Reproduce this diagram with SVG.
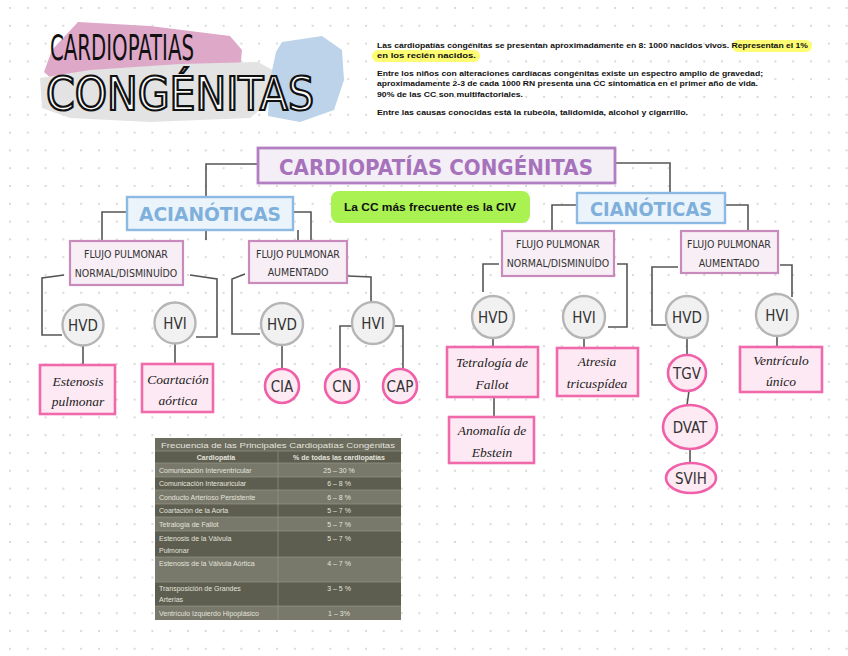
<svg xmlns="http://www.w3.org/2000/svg" width="848" height="656" viewBox="0 0 848 656">
<defs>
<pattern id="dots" x="8" y="6" width="17.8" height="17.8" patternUnits="userSpaceOnUse">
<circle cx="2" cy="2" r="0.9" fill="#c9c9c9"/>
</pattern>
<style>
.c{fill:none;stroke:#555;stroke-width:1.6}
.para{font-family:"Liberation Sans",Arial,sans-serif;font-size:7.4px;font-weight:bold;fill:#111}
.flujo rect{fill:#f8eef5;stroke:#c98bbb;stroke-width:2.2}
.flujo text{font-family:"DejaVu Sans Condensed","Liberation Sans Narrow",sans-serif;font-size:10.5px;fill:#333;text-anchor:middle}
.gc circle{fill:#f1f1f1;stroke:#b5b5b5;stroke-width:2.4}
.gc text{font-family:"DejaVu Sans Condensed","Liberation Sans Narrow",sans-serif;font-size:15px;fill:#333;text-anchor:middle}
.pb rect{fill:#fde9f3;stroke:#f06aab;stroke-width:2.6}
.pb text{font-family:"Liberation Serif",serif;font-style:italic;font-size:13.5px;fill:#222;text-anchor:middle}
.pc circle,.pc ellipse{fill:#fdeaf3;stroke:#f060a8;stroke-width:2.6}
.pc text{font-family:"DejaVu Sans Condensed","Liberation Sans Narrow",sans-serif;font-size:15px;fill:#333;text-anchor:middle}
.bl rect{fill:#ebf3fb;stroke:#8dbae2;stroke-width:2.4}
.bl text{font-family:"DejaVu Sans","Liberation Sans",sans-serif;font-weight:bold;font-size:20px;fill:#7fb0dc;text-anchor:middle}
.tb{font-family:"Liberation Sans",Arial,sans-serif;font-size:7px;fill:#e4e4dc}
.tc{text-anchor:middle}
</style>
</defs>
<rect width="848" height="656" fill="#ffffff"/>
<rect width="848" height="656" fill="url(#dots)"/>

<!-- Title blobs -->
<g id="title">
<path d="M78 22 L150 26 L230 36 L242 50 L240 70 L200 80 L120 84 L60 86 L44 72 L52 50 Z" fill="#dea8c8"/>
<path d="M40 78 L90 70 L180 64 L258 62 L276 72 L272 100 L250 118 L150 122 L70 118 L42 108 Z" fill="#e3e3e3"/>
<path d="M282 42 L322 36 L342 50 L344 80 L334 110 L300 122 L268 116 L270 80 L276 52 Z" fill="#bcd3ea"/>
<text x="50" y="60" font-family="Liberation Sans Narrow,DejaVu Sans Condensed,sans-serif" font-size="36" fill="#111" textLength="144" lengthAdjust="spacingAndGlyphs">CARDIOPATIAS</text>
<text x="46" y="110" font-family="Liberation Sans Narrow,DejaVu Sans Condensed,sans-serif" font-size="46" fill="#ffffff" stroke="#111" stroke-width="2.2" textLength="268" lengthAdjust="spacingAndGlyphs">CONGÉNITAS</text>
</g>

<!-- Paragraph -->
<g id="info">
<rect x="732" y="40" width="80" height="12" rx="6" fill="#fdfc72"/>
<rect x="372" y="50" width="108" height="12" rx="6" fill="#fdfc72"/>
<text class="para" x="377" y="48" textLength="431" lengthAdjust="spacingAndGlyphs">Las cardiopatías congénitas se presentan aproximadamente en 8: 1000 nacidos vivos. Representan el 1%</text>
<text class="para" x="377" y="58" textLength="99" lengthAdjust="spacingAndGlyphs">en los recién nacidos.</text>
<text class="para" x="377" y="76" textLength="386" lengthAdjust="spacingAndGlyphs">Entre los niños con alteraciones cardíacas congénitas existe un espectro amplio de gravedad;</text>
<text class="para" x="377" y="86" textLength="381" lengthAdjust="spacingAndGlyphs">aproximadamente 2-3 de cada 1000 RN presenta una CC sintomática en el primer año de vida.</text>
<text class="para" x="377" y="97" textLength="146" lengthAdjust="spacingAndGlyphs">90% de las CC son multifactoriales.</text>
<text class="para" x="377" y="115" textLength="311" lengthAdjust="spacingAndGlyphs">Entre las causas conocidas está la rubeóla, talidomida, alcohol y cigarrillo.</text>
</g>

<!-- Connectors -->
<g id="connectors">
<polyline class="c" points="258,164 206,164 206,196"/>
<polyline class="c" points="616,163 670,163 670,192"/>
<line class="c" x1="206" y1="230" x2="206" y2="240"/>
<line class="c" x1="298" y1="230" x2="298" y2="240"/>
<polyline class="c" points="294,212 311,212 311,240"/>
<polyline class="c" points="127,212 102,212 102,240"/>
<polyline class="c" points="576,205 552,205 552,231"/>
<polyline class="c" points="726,205 748,205 748,231"/>
<polyline class="c" points="64,275 42,278 42,335 62,335"/>
<polyline class="c" points="190,275 217,279 217,337 196,337"/>
<line class="c" x1="83" y1="346" x2="83" y2="365"/>
<line class="c" x1="175" y1="344" x2="175" y2="364"/>
<polyline class="c" points="245,274 232,279 232,334 260,334"/>
<line class="c" x1="282" y1="345" x2="282" y2="369"/>
<polyline class="c" points="348,276 371,277 371,302"/>
<polyline class="c" points="352,326 340,326 340,370"/>
<polyline class="c" points="394,326 403,326 403,370"/>
<polyline class="c" points="499,264 483,264 483,292"/>
<polyline class="c" points="617,264 627,264 627,327 608,327"/>
<line class="c" x1="493" y1="338" x2="493" y2="347"/>
<line class="c" x1="494" y1="397" x2="494" y2="417"/>
<line class="c" x1="584" y1="338" x2="584" y2="348"/>
<polyline class="c" points="678,267 652,267 652,325 666,325"/>
<polyline class="c" points="780,265 792,265 792,297"/>
<line class="c" x1="687" y1="338" x2="687" y2="355"/>
<line class="c" x1="689" y1="391" x2="687" y2="405"/>
<line class="c" x1="690" y1="449" x2="690" y2="463"/>
<line class="c" x1="777" y1="336" x2="777" y2="347"/>
</g>

<!-- Main header -->
<g id="main">
<rect x="258" y="148" width="357" height="35" fill="#f4eef6" stroke="#b280c2" stroke-width="2.8"/>
<text x="436" y="175" font-family="DejaVu Sans,Liberation Sans,sans-serif" font-weight="bold" font-size="22" fill="#a672bc" text-anchor="middle" textLength="314" lengthAdjust="spacingAndGlyphs">CARDIOPATÍAS CONGÉNITAS</text>
</g>

<g id="civ">
<rect x="331" y="191" width="199" height="32" rx="8" fill="#a9f251"/>
<text x="430" y="211" font-family="Liberation Sans,Arial,sans-serif" font-weight="bold" font-size="10.5" fill="#111" text-anchor="middle" textLength="172" lengthAdjust="spacingAndGlyphs">La CC más frecuente es la CIV</text>
</g>

<g id="acianoticas" class="bl">
<rect x="127" y="197" width="166" height="33"/>
<text x="210" y="221" textLength="142" lengthAdjust="spacingAndGlyphs">ACIANÓTICAS</text>
</g>
<g id="cianoticas" class="bl">
<rect x="577" y="193" width="148" height="30"/>
<text x="651" y="216" textLength="122" lengthAdjust="spacingAndGlyphs">CIANÓTICAS</text>
</g>

<!-- Flujo boxes -->
<g id="flujo-a-nd" class="flujo">
<rect x="70" y="241" width="113" height="44"/>
<text x="126" y="258">FLUJO PULMONAR</text>
<text x="126" y="277">NORMAL/DISMINUÍDO</text>
</g>
<g id="flujo-a-au" class="flujo">
<rect x="249" y="241" width="98" height="42"/>
<text x="298" y="258">FLUJO PULMONAR</text>
<text x="298" y="276">AUMENTADO</text>
</g>
<g id="flujo-c-nd" class="flujo">
<rect x="502" y="231" width="112" height="45"/>
<text x="558" y="248">FLUJO PULMONAR</text>
<text x="558" y="267">NORMAL/DISMINUÍDO</text>
</g>
<g id="flujo-c-au" class="flujo">
<rect x="681" y="231" width="97" height="42"/>
<text x="729" y="248">FLUJO PULMONAR</text>
<text x="729" y="267">AUMENTADO</text>
</g>

<!-- Grey circles -->
<g id="hvd1" class="gc"><circle cx="83" cy="325" r="20.5"/><text x="83" y="331">HVD</text></g>
<g id="hvi1" class="gc"><circle cx="175" cy="323" r="20.5"/><text x="175" y="329">HVI</text></g>
<g id="hvd2" class="gc"><circle cx="282" cy="324" r="21"/><text x="282" y="330">HVD</text></g>
<g id="hvi2" class="gc"><circle cx="373" cy="323" r="21"/><text x="373" y="329">HVI</text></g>
<g id="hvd3" class="gc"><circle cx="493" cy="317" r="21"/><text x="493" y="323">HVD</text></g>
<g id="hvi3" class="gc"><circle cx="584" cy="317" r="21"/><text x="584" y="323">HVI</text></g>
<g id="hvd4" class="gc"><circle cx="687" cy="317" r="21"/><text x="687" y="323">HVD</text></g>
<g id="hvi4" class="gc"><circle cx="777" cy="315" r="21"/><text x="777" y="321">HVI</text></g>

<!-- Pink boxes -->
<g id="estenosis" class="pb"><rect x="40" y="365" width="75" height="49"/><text x="78" y="386">Estenosis</text><text x="78" y="406">pulmonar</text></g>
<g id="coartacion" class="pb"><rect x="142" y="364" width="71" height="48"/><text x="178" y="384">Coartación</text><text x="178" y="405">aórtica</text></g>
<g id="tetralogia" class="pb"><rect x="447" y="347" width="91" height="50"/><text x="492" y="367">Tetralogía de</text><text x="492" y="389">Fallot</text></g>
<g id="ebstein" class="pb"><rect x="449" y="417" width="85" height="46"/><text x="492" y="435">Anomalía de</text><text x="492" y="457">Ebstein</text></g>
<g id="atresia" class="pb"><rect x="557" y="348" width="81" height="48"/><text x="597" y="366">Atresia</text><text x="597" y="388">tricuspídea</text></g>
<g id="ventriculo" class="pb"><rect x="740" y="347" width="82" height="45"/><text x="781" y="365">Ventrículo</text><text x="781" y="386">único</text></g>

<!-- Pink circles -->
<g id="cia" class="pc"><circle cx="282" cy="386" r="17"/><text x="282" y="392">CIA</text></g>
<g id="cn" class="pc"><circle cx="342" cy="386" r="17"/><text x="342" y="392">CN</text></g>
<g id="cap" class="pc"><circle cx="400" cy="386" r="17"/><text x="400" y="392">CAP</text></g>
<g id="tgv" class="pc"><ellipse cx="687" cy="373" rx="19" ry="18"/><text x="687" y="379">TGV</text></g>
<g id="dvat" class="pc"><ellipse cx="690" cy="427" rx="27" ry="22"/><text x="690" y="433">DVAT</text></g>
<g id="svih" class="pc"><ellipse cx="691" cy="478" rx="25" ry="15"/><text x="691" y="484">SVIH</text></g>

<!-- Table -->
<g id="table">
<rect x="155" y="438" width="246" height="13" fill="#6c6c5f"/>
<rect x="155" y="451" width="246" height="12" fill="#5d5d50"/>
<rect x="155" y="463" width="246" height="14" fill="#78786b"/>
<rect x="155" y="477" width="246" height="13" fill="#5d5d50"/>
<rect x="155" y="490" width="246" height="14" fill="#78786b"/>
<rect x="155" y="504" width="246" height="13" fill="#5d5d50"/>
<rect x="155" y="517" width="246" height="14" fill="#78786b"/>
<rect x="155" y="531" width="246" height="26" fill="#5d5d50"/>
<rect x="155" y="557" width="246" height="25" fill="#78786b"/>
<rect x="155" y="582" width="246" height="24" fill="#5d5d50"/>
<rect x="155" y="606" width="246" height="14" fill="#78786b"/>
<g stroke="#9a9a8e" stroke-width="0.6">
<line x1="278" y1="451" x2="278" y2="620"/>
<line x1="155" y1="451" x2="401" y2="451"/>
<line x1="155" y1="463" x2="401" y2="463"/>
<line x1="155" y1="477" x2="401" y2="477"/>
<line x1="155" y1="490" x2="401" y2="490"/>
<line x1="155" y1="504" x2="401" y2="504"/>
<line x1="155" y1="517" x2="401" y2="517"/>
<line x1="155" y1="531" x2="401" y2="531"/>
<line x1="155" y1="557" x2="401" y2="557"/>
<line x1="155" y1="582" x2="401" y2="582"/>
<line x1="155" y1="606" x2="401" y2="606"/>
</g>
<text class="tb" x="161" y="448" font-size="8.6" textLength="234" lengthAdjust="spacingAndGlyphs">Frecuencia de las Principales Cardiopatías Congénitas</text>
<text class="tb tc" x="216" y="460" font-weight="bold">Cardiopatía</text>
<text class="tb tc" x="339" y="460" font-weight="bold">% de todas las cardiopatías</text>
<text class="tb" x="159" y="473">Comunicación Interventricular</text>
<text class="tb tc" x="339" y="473">25 – 30 %</text>
<text class="tb" x="159" y="486">Comunicación Interauricular</text>
<text class="tb tc" x="339" y="486">6 – 8 %</text>
<text class="tb" x="159" y="500">Conducto Arterioso Persistente</text>
<text class="tb tc" x="339" y="500">6 – 8 %</text>
<text class="tb" x="159" y="513">Coartación de la Aorta</text>
<text class="tb tc" x="339" y="513">5 – 7 %</text>
<text class="tb" x="159" y="527">Tetralogía de Fallot</text>
<text class="tb tc" x="339" y="527">5 – 7 %</text>
<text class="tb" x="159" y="541">Estenosis de la Válvula</text>
<text class="tb" x="159" y="553">Pulmonar</text>
<text class="tb tc" x="339" y="541">5 – 7 %</text>
<text class="tb" x="159" y="566">Estenosis de la Válvula Aórtica</text>
<text class="tb tc" x="339" y="566">4 – 7 %</text>
<text class="tb" x="159" y="591">Transposición de Grandes</text>
<text class="tb" x="159" y="602">Arterias</text>
<text class="tb tc" x="339" y="591">3 – 5 %</text>
<text class="tb" x="159" y="616">Ventrículo Izquierdo Hipoplásico</text>
<text class="tb tc" x="339" y="616">1 – 3%</text>
</g>
</svg>
